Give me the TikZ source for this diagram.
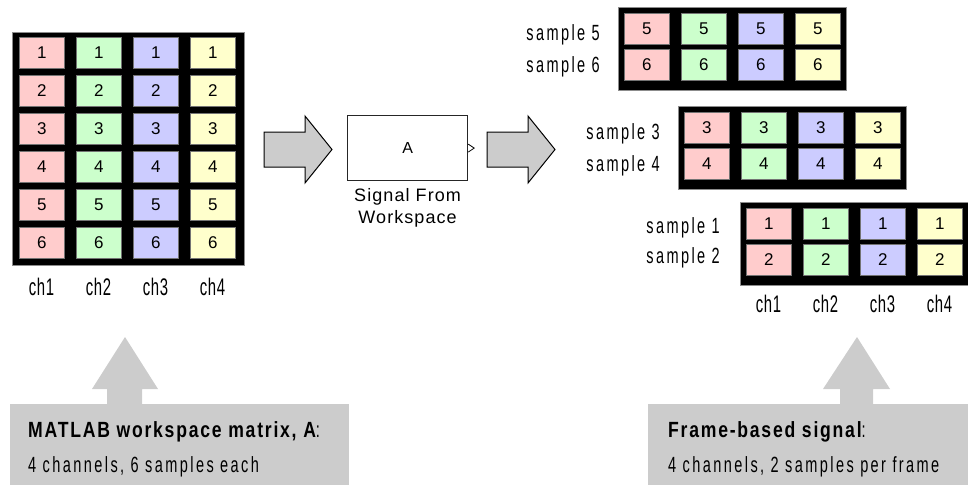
\documentclass[tikz,border=0pt]{standalone}
\usepackage{fontspec}
\setmainfont{Liberation Sans}
\newfontfamily\cf[FakeStretch=0.66,LetterSpace=11]{Liberation Sans}
\newfontfamily\cfn[FakeStretch=0.62,LetterSpace=3]{Liberation Sans}
\newfontfamily\cfb[FakeStretch=0.8,LetterSpace=8]{Liberation Sans Bold}
\newfontfamily\lsp[LetterSpace=6]{Liberation Sans}
\definecolor{cA}{HTML}{FFCCCC}
\definecolor{cB}{HTML}{CCFFCC}
\definecolor{cC}{HTML}{CCCCFF}
\definecolor{cD}{HTML}{FFFFCC}
\definecolor{gbox}{HTML}{CCCCCC}
\begin{document}
\begin{tikzpicture}[x=1pt,y=-1pt,
  matbox/.style={fill=black,draw=black!45,line width=0.8pt,inner sep=0pt,anchor=north west},
  cell/.style={draw=black!55,line width=0.6pt,minimum width=45pt,minimum height=31pt,inner sep=0pt,anchor=north west,font=\fontsize{17}{17}\selectfont},
  chlab/.style={anchor=base,inner sep=0pt,font=\cfn\fontsize{24}{24}\selectfont},
  smplab/.style={anchor=base east,inner sep=0pt,font=\cf\fontsize{22}{22}\selectfont},
  blockarrow/.style={fill=gbox,draw=black,line width=1pt,line join=miter},
  graybox/.style={fill=gbox,draw=none,inner sep=0pt,anchor=north west},
  boxtext/.style={anchor=base west,inner sep=0pt}]
\useasboundingbox (0,0) rectangle (968,485);

% left workspace matrix
\node[matbox,minimum width=232pt,minimum height=233pt] (L) at (12,32) {};
\foreach \r in {1,...,6}
  \foreach \c/\col in {1/cA,2/cB,3/cC,4/cD}
    \node[cell,fill=\col] (L\r\c) at ({19+57*(\c-1)},{37+38*(\r-1)}) {\r};
\foreach \c in {1,...,4}
  \node[chlab] (Lch\c) at ({41.5+57*(\c-1)},295) {ch\c};

% block arrows
\draw[blockarrow] (264,132) -- (305,132) -- (305,116) -- (332,149.5) -- (305,183) -- (305,167) -- (264,167) -- cycle;
\draw[blockarrow] (487,132) -- (528,132) -- (528,116) -- (555,149.5) -- (528,183) -- (528,167) -- (487,167) -- cycle;

% Simulink block
\node[draw=black!85,line width=1.2pt,minimum width=120pt,minimum height=65pt,inner sep=0pt,anchor=north west,font=\fontsize{16}{16}\selectfont] (blk) at (347,115) {A};
\draw[line width=0.8pt] ([yshift=4pt]blk.east) -- ++(6,4) -- ++(-6,4);
\node[anchor=north,align=center,inner sep=0pt,font=\lsp\fontsize{18}{22}\selectfont] (blklab) at (blk.south) [yshift=-7pt] {Signal From\\Workspace};

% frame matrices
\foreach \x/\y/\ra/\rb/\n in {618/7/5/6/T,678/106/3/4/M,740/202/1/2/B}{
  \node[matbox,minimum width=228pt,minimum height=83pt] (F\n) at (\x,\y) {};
  \foreach \c/\col in {1/cA,2/cB,3/cC,4/cD}{
    \node[cell,fill=\col] (F\n a\c) at ({\x+6+57*(\c-1)},{\y+6}) {\ra};
    \node[cell,fill=\col] (F\n b\c) at ({\x+6+57*(\c-1)},{\y+42}) {\rb};
  }
}
\node[smplab] (s5) at (600,40) {sample 5};
\node[smplab] (s6) at (600,72) {sample 6};
\node[smplab] (s3) at (660,139) {sample 3};
\node[smplab] (s4) at (660,171) {sample 4};
\node[smplab] (s1) at (720,233) {sample 1};
\node[smplab] (s2) at (720,263) {sample 2};
\foreach \c in {1,...,4}
  \node[chlab] (Rch\c) at ({768.5+57*(\c-1)},312) {ch\c};

% gray callouts
\node[graybox,minimum width=339pt,minimum height=81pt] (lbox) at (10,404) {};
\fill[gbox] (107,405) -- (107,389) -- (92,389) -- (125,337) -- (158,389) -- (142,389) -- (142,405) -- cycle;
\node[boxtext] (lt1) at (28,437) {\fontsize{22}{22}\selectfont{\cfb MATLAB workspace matrix, A}{\cf :}};
\node[boxtext] (lt2) at (28,472) {\cf\fontsize{22}{22}\selectfont 4 channels, 6 samples each};

\node[graybox,minimum width=320pt,minimum height=81pt] (rbox) at (648,404) {};
\fill[gbox] (840,405) -- (840,389) -- (823,389) -- (857,337) -- (890,389) -- (873,389) -- (873,405) -- cycle;
\node[boxtext] (rt1) at (668,437) {\fontsize{22}{22}\selectfont{\cfb Frame-based signal}{\cf :}};
\node[boxtext] (rt2) at (668,472) {\cf\fontsize{22}{22}\selectfont 4 channels, 2 samples per frame};
\end{tikzpicture}
\end{document}
